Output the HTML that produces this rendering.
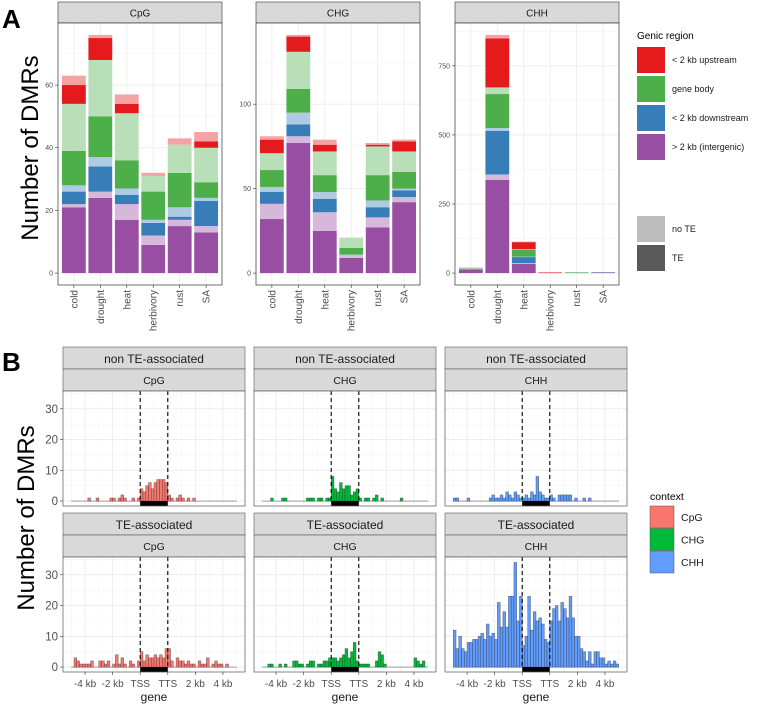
<!DOCTYPE html>
<html><head><meta charset="utf-8"><style>
html,body{margin:0;padding:0;background:#fff;}
svg{display:block;font-family:"Liberation Sans",sans-serif;}
</style></head><body>
<svg id="chart" width="763" height="705" viewBox="0 0 763 705" xmlns="http://www.w3.org/2000/svg"></svg>
<script>
// ---------- Panel A data (segment heights, bottom->top: intergenic TE, intergenic noTE, downstream TE, downstream noTE, body TE, body noTE, upstream TE, upstream noTE)
const categories = ["cold","drought","heat","herbivory","rust","SA"];
const cpgSegs = [[21,1,4,2,11,15,6,3],[24,2,8,3,13,18,7,1],[17,5,3,2,9,15,3,3],[9,3,4,1,9,5,0,1],[15,2,1,3,11,9,0,2],[13,2,8,1,5,11,2,3]];
const chgSegs = [[32,9,7,3,10,10,8,2],[77,4,7,7,14,22,9,1],[25,11,8,4,10,14,4,3],[9,1,0,1,4,6,0,0],[27,6,6,4,15,17,1,1],[42,3,4,1,10,12,6,1]];
const chhSegs = [[12,1,2,1,1,1,1,1],[337,20,158,10,123,24,177,13],[33,3,22,2,24,2,26,2],[0,0,0,0,0,0,2,1],[0,0,1,0,2,0,0,0],[2,0,1,0,0,0,0,0]];
const cpgTicks = [0,20,40,60];
const chgTicks = [0,50,100];
const chhTicks = [0,250,500,750];
const segColors = ["#984EA3","#D6B8DA","#377EB8","#AFCBE3","#4DAF4A","#B8DFB7","#E41A1C","#F4A3A4"];
const legendLabels = ["< 2 kb upstream","gene body","< 2 kb downstream","> 2 kb (intergenic)"];

// ---------- Panel B data (60 bins of 0.2 units from -5 to 7; TSS=0, TTS=2)
const cpgNonTE = [0,0,0,0,0, 0,1,0,0,1, 0,0,0,0,1, 1,0,1,2,1, 0,0,1,0,1, 4,3,5,6,4,6,7,7,7,6, 2,1,0,1,2, 1,0,1,0,1, 0,0,0,0,0, 0,0,0,0,0, 0,0,0,0,0];
const chgNonTE = [0,0,0,1,0, 0,0,1,1,0, 0,0,0,0,0, 0,1,1,1,0, 1,1,0,1,1, 8,4,3,6,4,5,5,2,3,4, 1,0,1,1,0, 1,2,0,1,0, 0,0,0,0,0, 1,0,0,0,0, 0,0,0,0,0];
const chhNonTE = [1,1,0,0,0, 1,0,0,0,0, 0,0,0,1,2, 1,1,2,1,3, 2,1,3,2,1, 1,2,1,3,2,8,3,2,1,1, 2,1,0,2,2, 2,2,2,0,1, 0,0,1,0,1, 0,0,0,0,0, 0,0,0,0,0];
const cpgTE = [0,3,2,1,1, 1,1,2,0,0, 2,2,1,2,0, 1,4,1,3,1, 0,2,1,0,2, 5,2,4,3,3,4,3,4,3,6, 6,2,0,3,2, 2,1,2,1,1, 0,2,1,1,3, 0,1,2,1,1, 0,1,0,0,0];
const chgTE = [0,0,1,1,0, 0,1,0,1,0, 0,2,2,1,1, 0,1,2,2,0, 1,1,2,2,3, 3,3,2,3,4,6,3,5,8,2, 1,1,1,1,0, 0,2,5,4,1, 0,0,0,0,0, 0,0,0,0,0, 3,2,1,2,0];
const chhTE = [12,6,10,6,5, 8,8,9,9,10, 11,9,14,10,11, 9,21,13,18,13, 23,23,34,15,23, 7,10,23,12,18,15,16,14,9,8, 15,19,20,15,21, 19,16,23,16,10, 10,6,5,2,5, 1,5,5,3,3, 1,2,1,2,1];
const bTicks = [0,10,20,30];
const xTickVals = [-4,-2,0,2,4,6];
const xTickLabels = ["-4 kb","-2 kb","TSS","TTS","2 kb","4 kb"];

const NS = "http://www.w3.org/2000/svg";
const svg = document.getElementById('chart');
function mk(tag, attrs, name, parent){
  const el = document.createElementNS(NS, tag);
  for (const k in attrs) el.setAttribute(k, attrs[k]);
  
  
  (parent || svg).appendChild(el);
  return el;
}
function txt(x, y, s, attrs, name, parent){
  const t = mk('text', Object.assign({x:x, y:y}, attrs), name, parent);
  t.textContent = s;
  return t;
}

// ---------- Panel A
txt(2, 28, "A", {"font-size":26, "font-weight":"bold", fill:"#000"}, "panel-a-label");
txt(0, 0, "Number of DMRs", {"font-size":24, fill:"#000", "text-anchor":"middle", transform:"translate(38,148) rotate(-90)"}, "panel-a-y-axis-title");

function drawA(fx, title, segs, ticks){
  const g = mk('g', {}, "facet-" + title.toLowerCase());
  const pw = 164, top = 23, bot = 285;
  let maxv = 0;
  segs.forEach(s => { maxv = Math.max(maxv, s.reduce((a,b)=>a+b,0)); });
  const lo = -0.05*maxv, hi = 1.05*maxv;
  const Y = v => bot - (v - lo)/(hi - lo)*(bot - top);
  const unit = pw/6.2;
  const X = i => fx + (i + 0.6)*unit;
  mk('rect', {x:fx, y:2, width:pw, height:21, fill:"#d9d9d9", stroke:"#333", "stroke-width":0.6}, "facet-strip", g);
  txt(fx+pw/2, 16.5, title, {"font-size":10, fill:"#1a1a1a", "text-anchor":"middle"}, "facet-strip-label", g);
  mk('rect', {x:fx, y:top, width:pw, height:bot-top, fill:"#fff"}, "panel-background", g);
  const step = ticks[1]-ticks[0];
  for (let v = ticks[0]+step/2; v < hi; v += step) mk('line', {x1:fx, x2:fx+pw, y1:Y(v), y2:Y(v), stroke:"#f2f2f2", "stroke-width":0.5}, "minor-gridline", g);
  ticks.forEach(v => mk('line', {x1:fx, x2:fx+pw, y1:Y(v), y2:Y(v), stroke:"#ebebeb", "stroke-width":0.8}, "major-gridline", g));
  categories.forEach((c,i) => mk('line', {x1:X(i), x2:X(i), y1:top, y2:bot, stroke:"#ebebeb", "stroke-width":0.8}, "category-gridline", g));
  const bw = 0.9*unit;
  segs.forEach((s,i) => {
    let cum = 0;
    s.forEach((v,k) => {
      if (v > 0) {
        const r = mk('rect', {x:X(i)-bw/2, y:Y(cum+v), width:bw, height:Y(cum)-Y(cum+v), fill:segColors[k]}, "bar-segment", g);
        
      }
      cum += v;
    });
  });
  mk('rect', {x:fx, y:top, width:pw, height:bot-top, fill:"none", stroke:"#333", "stroke-width":0.7}, "panel-border", g);
  ticks.forEach(v => {
    mk('line', {x1:fx-3, x2:fx, y1:Y(v), y2:Y(v), stroke:"#333", "stroke-width":0.6}, "y-tick", g);
    txt(fx-5, Y(v)+2.5, String(v), {"font-size":7, fill:"#4d4d4d", "text-anchor":"end"}, "y-tick-label", g);
  });
  categories.forEach((c,i) => {
    mk('line', {x1:X(i), x2:X(i), y1:bot, y2:bot+3, stroke:"#333", "stroke-width":0.6}, "x-tick", g);
    txt(0, 0, c, {"font-size":10, fill:"#4d4d4d", "text-anchor":"end", transform:"translate(" + (X(i)+3.5) + "," + (bot+5) + ") rotate(-90)"}, "x-tick-label", g);
  });
}
drawA(58, "CpG", cpgSegs, cpgTicks);
drawA(256, "CHG", chgSegs, chgTicks);
drawA(455, "CHH", chhSegs, chhTicks);

// Legend A
const legA = mk('g', {}, "genic-region-legend");
txt(637, 39, "Genic region", {"font-size":10, fill:"#000"}, "legend-title", legA);
[6,4,2,0].forEach((ci,k) => {
  const y = 47 + k*29;
  mk('rect', {x:637, y:y, width:28, height:26, fill:segColors[ci]}, "legend-key", legA);
  txt(672, y+16, legendLabels[k], {"font-size":9, fill:"#1a1a1a"}, "legend-entry", legA);
});
mk('rect', {x:637, y:216, width:28, height:26, fill:"#bdbdbd"}, "legend-key-no-te", legA);
txt(672, 232, "no TE", {"font-size":9, fill:"#1a1a1a"}, "legend-entry-no-te", legA);
mk('rect', {x:637, y:245, width:28, height:26, fill:"#595959"}, "legend-key-te", legA);
txt(672, 261, "TE", {"font-size":9, fill:"#1a1a1a"}, "legend-entry-te", legA);

// ---------- Panel B
txt(2, 371, "B", {"font-size":26, "font-weight":"bold", fill:"#000"}, "panel-b-label");
txt(0, 0, "Number of DMRs", {"font-size":24, fill:"#000", "text-anchor":"middle", transform:"translate(34,518) rotate(-90)"}, "panel-b-y-axis-title");

const allB = [cpgNonTE,chgNonTE,chhNonTE,cpgTE,chgTE,chhTE];
const bMax = Math.max(...allB.map(a => Math.max(...a)));
const bLo = -1.6, bHi = bMax + 0.05*(bMax - bLo);

function drawB(fx, stripTop, label1, label2, data, fill, showX){
  const g = mk('g', {}, "histogram-facet");
  const pw = 182, top = stripTop + 44, bot = top + 115;
  const Y = v => bot - (v - bLo)/(bHi - bLo)*(bot - top);
  const X = u => fx + (u + 5.6)/13.2*pw;
  mk('rect', {x:fx, y:stripTop, width:pw, height:22, fill:"#d9d9d9", stroke:"#555", "stroke-width":0.6}, "facet-strip-outer", g);
  txt(fx+pw/2, stripTop+16, label1, {"font-size":12, fill:"#1a1a1a", "text-anchor":"middle"}, "facet-strip-outer-label", g);
  mk('rect', {x:fx, y:stripTop+22, width:pw, height:22, fill:"#d9d9d9", stroke:"#555", "stroke-width":0.6}, "facet-strip-inner", g);
  txt(fx+pw/2, stripTop+37, label2, {"font-size":10.5, fill:"#1a1a1a", "text-anchor":"middle"}, "facet-strip-inner-label", g);
  mk('rect', {x:fx, y:top, width:pw, height:bot-top, fill:"#fff"}, "panel-background", g);
  [5,15,25,35].forEach(v => { if (v < bHi) mk('line', {x1:fx, x2:fx+pw, y1:Y(v), y2:Y(v), stroke:"#f2f2f2", "stroke-width":0.5}, "minor-gridline", g); });
  [-5,-3,-1,1,3,5,7].forEach(u => mk('line', {x1:X(u), x2:X(u), y1:top, y2:bot, stroke:"#f2f2f2", "stroke-width":0.5}, "minor-gridline", g));
  bTicks.forEach(v => mk('line', {x1:fx, x2:fx+pw, y1:Y(v), y2:Y(v), stroke:"#ebebeb", "stroke-width":0.8}, "major-gridline", g));
  xTickVals.forEach(u => mk('line', {x1:X(u), x2:X(u), y1:top, y2:bot, stroke:"#ebebeb", "stroke-width":0.8}, "major-gridline", g));
  mk('line', {x1:X(-5), x2:X(7), y1:Y(0), y2:Y(0), stroke:"#666", "stroke-width":0.7}, "baseline", g);
  const bw = X(0.2) - X(0);
  data.forEach((v,i) => {
    if (v > 0) {
      const r = mk('rect', {x:X(-5 + 0.2*i), y:Y(v), width:bw, height:Y(0)-Y(v), fill:fill, stroke:"#333", "stroke-opacity":0.7, "stroke-width":0.5}, "bin", g);
      
    }
  });
  mk('line', {x1:X(0), x2:X(0), y1:top, y2:Y(0), stroke:"#000", "stroke-width":1.1, "stroke-dasharray":"4,3"}, "tss-line", g);
  mk('line', {x1:X(2), x2:X(2), y1:top, y2:Y(0), stroke:"#000", "stroke-width":1.1, "stroke-dasharray":"4,3"}, "tts-line", g);
  mk('rect', {x:X(0), y:Y(0), width:X(2)-X(0), height:Y(bLo)-Y(0), fill:"#000"}, "gene-body-bar", g);
  mk('rect', {x:fx, y:top, width:pw, height:bot-top, fill:"none", stroke:"#555", "stroke-width":0.7}, "panel-border", g);
  if (fx < 100) {
    bTicks.forEach(v => {
      mk('line', {x1:fx-3, x2:fx, y1:Y(v), y2:Y(v), stroke:"#333", "stroke-width":0.6}, "y-tick", g);
      txt(fx-5, Y(v)+4, String(v), {"font-size":11.5, fill:"#4d4d4d", "text-anchor":"end"}, "y-tick-label", g);
    });
  }
  if (showX) {
    xTickVals.forEach((u,k) => {
      mk('line', {x1:X(u), x2:X(u), y1:bot, y2:bot+3, stroke:"#333", "stroke-width":0.6}, "x-tick", g);
      txt(X(u), bot+15, xTickLabels[k], {"font-size":10, fill:"#4d4d4d", "text-anchor":"middle"}, "x-tick-label", g);
    });
    txt(fx+pw/2, bot+29, "gene", {"font-size":12, fill:"#1a1a1a", "text-anchor":"middle"}, "x-axis-title", g);
  }
}
const cCpG = "#F8766D", cCHG = "#00BA38", cCHH = "#619CFF";
drawB(63, 347, "non TE-associated", "CpG", cpgNonTE, cCpG, false);
drawB(254, 347, "non TE-associated", "CHG", chgNonTE, cCHG, false);
drawB(445, 347, "non TE-associated", "CHH", chhNonTE, cCHH, false);
drawB(63, 513, "TE-associated", "CpG", cpgTE, cCpG, true);
drawB(254, 513, "TE-associated", "CHG", chgTE, cCHG, true);
drawB(445, 513, "TE-associated", "CHH", chhTE, cCHH, true);

// Legend B
const legB = mk('g', {}, "context-legend");
txt(650, 500, "context", {"font-size":10.5, fill:"#000"}, "legend-title", legB);
[["CpG",cCpG],["CHG",cCHG],["CHH",cCHH]].forEach((e,k) => {
  const y = 506 + k*22.5;
  mk('rect', {x:650, y:y, width:24, height:22, fill:e[1], stroke:"#555", "stroke-width":0.5}, "legend-key", legB);
  txt(681, y+15, e[0], {"font-size":10.5, fill:"#1a1a1a"}, "legend-entry", legB);
});
</script>
</body></html>
